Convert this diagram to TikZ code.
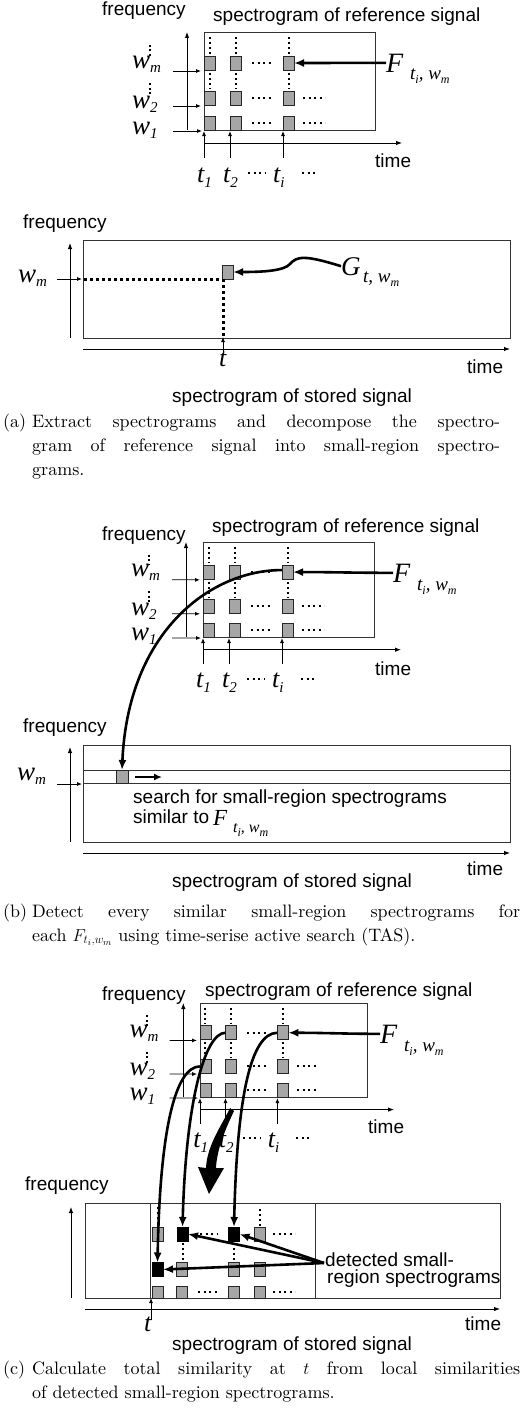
\documentclass[tikz,border=0pt]{standalone}
\usepackage{fontspec}
\setmainfont{lmroman10-regular.otf}
\setsansfont{Liberation Sans}
\newfontfamily\tms{Liberation Serif}
\usetikzlibrary{arrows.meta}

\newcommand\ssub[1]{\raisebox{-4pt}{\fontsize{12}{12}\selectfont #1}}
\newcommand\wl[1]{{\tms\itshape\fontsize{27}{27}\selectfont w\raisebox{-4pt}{\fontsize{15}{15}\selectfont #1}}}
\newcommand\tl[1]{{\tms\itshape\fontsize{26}{26}\selectfont t\raisebox{-5pt}{\fontsize{15}{15}\selectfont #1}}}
\newcommand\bigF{{\tms\itshape\fontsize{28}{28}\selectfont F}}
\newcommand\Fsub{{\tms\itshape\fontsize{19}{19}\selectfont t\ssub{i}, w\ssub{m}}}

\tikzset{
  boxline/.style={draw=black!80, line width=0.9pt},
  axis/.style={line width=0.9pt, -{Latex[length=6pt,width=4.5pt]}},
  thinarrow/.style={line width=0.8pt, -{Latex[length=5pt,width=4pt]}},
  heavy/.style={line width=2.6pt, -{Latex[length=10pt,width=8pt]}},
  sq/.style={draw=black!85, fill=black!35, line width=0.7pt, minimum width=11pt, minimum height=14pt, inner sep=0pt, outer sep=0pt},
  blk/.style={draw=black, fill=black, minimum width=11pt, minimum height=14pt, inner sep=0pt, outer sep=0pt},
  vdots/.style={line width=2pt, dash pattern=on 2pt off 3pt},
  hdots/.style={line width=2pt, dash pattern=on 2pt off 3.5pt},
  heavydots/.style={line width=3pt, dash pattern=on 3pt off 3pt},
  lbl/.style={font=\sffamily\fontsize{19}{19}\selectfont, inner sep=0pt, anchor=base west},
  mth/.style={inner sep=0pt, anchor=base west},
  capt/.style={font=\fontsize{18}{24}\selectfont, inner sep=0pt, anchor=base west},
}

\newcommand\refpanel{%
  \draw[boxline] (0,0) rectangle (171,98);
  \draw[axis] (-17,98) -- (-17,0);
  \draw[axis] (0,111) -- (198,111);
  \foreach \c/\x in {1/5.5,2/31.5,3/84.5}{
    \draw[vdots] (\x,5) -- (\x,22);
    \draw[vdots] (\x,41) -- (\x,57);
    \foreach \r/\y in {1/31,2/66,3/91}{
      \node[sq] (sq-\r-\c) at (\x,\y) {};
    }
  }
  \draw[hdots] (48,31) -- (68,31);
  \draw[hdots] (48,66) -- (68,66);
  \draw[hdots] (99,66) -- (121,66);
  \draw[hdots] (48,91) -- (68,91);
  \draw[hdots] (99,91) -- (121,91);
  % frequency labels
  \draw[line width=2pt, dash pattern=on 2pt off 2.5pt] (-54,13) -- (-54,24);
  \draw[line width=2pt, dash pattern=on 2pt off 2.5pt] (-54,51) -- (-54,62);
  \node[mth] (wm) at (-72,36) {\wl{m}};
  \node[mth] (w2) at (-72,76) {\wl{2}};
  \node[mth] (w1) at (-72,102) {\wl{1}};
  \coordinate (wma) at (-31,39);
  \coordinate (w2a) at (-31,74);
  \coordinate (w1a) at (-31,99);
  \draw[thinarrow] (wma) -- (-3,39);
  \draw[thinarrow] (w2a) -- (-3,74);
  \draw[thinarrow] (w1a) -- (-2,99);
  % time labels
  \foreach \x in {0,26,79}{\draw[thinarrow] (\x,126) -- (\x,99);}
  \node[mth] (t1) at (-7,150) {\tl{1}};
  \node[mth] (t2) at (19,150) {\tl{2}};
  \node[mth] (ti) at (69,150) {\tl{i}};
  \draw[hdots] (44,141) -- (61,141);
  \draw[hdots] (98,141) -- (114,141);
}

\begin{document}
\begin{tikzpicture}[x=1pt,y=-1pt]
\useasboundingbox (0,0) rectangle (527,1421);

% ================= (a) =================
\begin{scope}[shift={(204,32)}, name prefix=a-]
  \refpanel
\end{scope}
\node[lbl] (a-freq) at (102,16) {frequency};
\node[lbl] (a-title) at (213,22) {spectrogram of reference signal};
\node[lbl] (a-time) at (375,167) {time};
\node[mth] (a-F) at (386,72) {\bigF};
\node[mth] (a-Fs) at (410,80) {\Fsub};
\draw[heavy] (a-F.west) to[out=180,in=0] (a-sq-1-3.east);

% stored (a)
\draw[boxline] (83,240) rectangle (510,338);
\draw[axis] (70,338) -- (70,243);
\draw[axis] (83,349) -- (510,349);
\node[lbl] (sa-freq) at (23,228) {frequency};
\node[lbl] (sa-time) at (467,373) {time};
\node[lbl] (sa-title) at (172,402) {spectrogram of stored signal};
\node[mth] (sa-wm) at (18,282) {\wl{m}};
\coordinate (sa-wa) at (57,279);
\draw[thinarrow] (sa-wa) -- (82,279);
\node[sq] (sqa) at (227.5,272) {};
\coordinate (sa-l) at (84,279);
\coordinate (sa-b) at (223.5,338);
\draw[heavydots] (sa-l) -- (sqa.south west);
\draw[heavydots] ([xshift=1.5pt]sqa.south west) -- (sa-b);
\coordinate (sa-tb) at (223,352);
\draw[thinarrow] (sa-tb) -- (223,337);
\node[mth] (sa-t) at (219,366) {\tl{}};
\node[mth] (sa-G) at (341,275) {{\tms\itshape\fontsize{27}{27}\selectfont G}};
\node[mth] (sa-Gs) at (363,282) {{\tms\itshape\fontsize{19}{19}\selectfont t, w\ssub{m}}};
\draw[heavy] (sa-G.west) .. controls (305,255) and (297,256) .. (290,264) .. controls (284,271) and (262,272) .. (sqa.east);

\node[capt] (capa) at (3,427) {\makebox[29pt][l]{(a)}\parbox[t]{468pt}{Extract spectrograms and decompose the spectro-\linebreak gram of reference signal into small-region spectro-\linebreak grams.}};

% ================= (b) =================
\begin{scope}[shift={(203,542)}, yscale=0.97, name prefix=b-]
  \refpanel
\end{scope}
\node[lbl] (b-freq) at (102,540) {frequency};
\node[lbl] (b-title) at (212,532) {spectrogram of reference signal};
\node[lbl] (b-time) at (375,675) {time};
\node[mth] (b-F) at (393,582) {\bigF};
\node[mth] (b-Fs) at (417,590) {\Fsub};
\draw[heavy] (b-F.west) to[out=180,in=0] (b-sq-1-3.east);

% stored (b)
\draw[boxline] (83,745) rectangle (510,842);
\draw[boxline] (83,770) -- (510,770);
\draw[boxline] (83,783) -- (510,783);
\draw[axis] (70,842) -- (70,747);
\draw[axis] (83,853) -- (510,853);
\node[lbl] (sb-freq) at (23,732) {frequency};
\node[lbl] (sb-time) at (467,875) {time};
\node[lbl] (sb-title) at (172,887) {spectrogram of stored signal};
\node[mth] (sb-wm) at (17,780) {\wl{m}};
\coordinate (sb-wa) at (57,784);
\draw[thinarrow] (sb-wa) -- (82,784);
\node[sq, minimum width=12pt, minimum height=13pt] (sqb) at (122,776.5) {};
\coordinate (sb-r1) at (135,777);
\coordinate (sb-r2) at (162,777);
\draw[line width=2.6pt, -{Latex[length=8pt,width=7pt]}] (sb-r1) -- (sb-r2);
\node[lbl] (sb-search) at (133,803) {search for small-region spectrograms};
\node[lbl] (sb-sim) at (133,823) {similar to};
\node[mth] (sb-F) at (213,825) {{\tms\itshape\fontsize{23}{23}\selectfont F}};
\node[mth] (sb-Fs) at (233,832) {{\tms\itshape\fontsize{16}{16}\selectfont t\ssub{i}, w\ssub{m}}};
\draw[heavy] ([yshift=2pt]b-sq-1-3.west) .. controls (210,570) and (128,632) .. (sqb.north);

\node[capt] (capb) at (3,917) {\makebox[29pt][l]{(b)}\parbox[t]{488pt}{Detect every similar small-region spectrograms for\linebreak each $F_{t_i,w_m}$ using time-serise active search (TAS).}};

% ================= (c) =================
\begin{scope}[shift={(200,1003)}, xscale=0.98, yscale=0.96, name prefix=c-]
  \refpanel
\end{scope}
\node[lbl] (c-freq) at (102,1000) {frequency};
\node[lbl] (c-title) at (205,996) {spectrogram of reference signal};
\node[lbl] (c-time) at (368,1133) {time};
\node[mth] (c-F) at (380,1043) {\bigF};
\node[mth] (c-Fs) at (404,1051) {\Fsub};
\draw[heavy] (c-F.west) to[out=180,in=0] (c-sq-1-3.east);

% stored (c)
\draw[boxline] (85,1203) rectangle (500,1298);
\draw[boxline] (150,1203) -- (150,1298);
\draw[boxline] (315,1203) -- (315,1298);
\draw[axis] (71,1298) -- (71,1207);
\draw[axis] (85,1309) -- (500,1309);
\node[lbl] (sc-freq) at (25,1190) {frequency};
\node[lbl] (sc-time) at (465,1330) {time};
\node[lbl] (sc-title) at (172,1350) {spectrogram of stored signal};
\coordinate (sc-tb) at (151,1320);
\draw[thinarrow] (sc-tb) -- (151,1298);
\node[mth] (sc-t) at (144,1331) {\tl{}};

\draw[vdots] (157.5,1207) -- (157.5,1224);
\draw[vdots] (259.5,1209) -- (259.5,1226);
\draw[vdots] (182.5,1243) -- (182.5,1260);
\draw[vdots] (234,1243) -- (234,1260);
\node[sq] (p11) at (157.5,1234) {};
\node[blk] (k12) at (182.5,1234) {};
\node[blk] (k13) at (234,1234) {};
\node[sq] (p14) at (259.5,1234) {};
\node[blk] (k21) at (157.5,1269.5) {};
\node[sq] (p22) at (182,1269.5) {};
\node[sq] (p23) at (234,1269.5) {};
\node[sq] (p24) at (259.5,1269.5) {};
\node[sq, minimum height=12pt] (p31) at (157.5,1292) {};
\node[sq, minimum height=12pt] (p32) at (182,1292) {};
\node[sq, minimum height=12pt] (p33) at (234,1292) {};
\node[sq, minimum height=12pt] (p34) at (259.5,1292) {};
\draw[hdots] (200,1234) -- (217,1234);
\draw[hdots] (273,1234) -- (295,1234);
\draw[hdots] (198,1292) -- (217,1292);
\draw[hdots] (273,1292) -- (295,1292);

\node[lbl] (det1) at (325,1266) {detected small-};
\node[lbl] (det2) at (327,1283) {region spectrograms};
\coordinate (dsrc) at (324,1263);
\draw[heavy] (dsrc) -- (k12.east);
\draw[heavy] (dsrc) -- (k13.east);
\draw[heavy] (dsrc) -- (k21.east);

% curves from reference to stored
\draw[heavy] (c-sq-1-3.west) .. controls (250,1033) and (237,1100) .. (k13.north);
\draw[heavy] (c-sq-1-2.west) .. controls (205,1033) and (186,1100) .. (k12.north);
\draw[heavy] (c-sq-2-1.west) .. controls (175,1067) and (160,1130) .. (k21.north);

% big arrow
\fill (230,1108) .. controls (222,1125) and (207,1145) .. (206,1168) -- (198,1167) -- (209,1194) -- (224,1168) -- (216,1168) .. controls (217,1148) and (226,1128) .. (234,1111) -- cycle;

\node[capt] (capc) at (3,1374) {\makebox[29pt][l]{(c)}\parbox[t]{488pt}{Calculate total similarity at $t$ from local similarities\linebreak of detected small-region spectrograms.}};

\end{tikzpicture}
\end{document}
